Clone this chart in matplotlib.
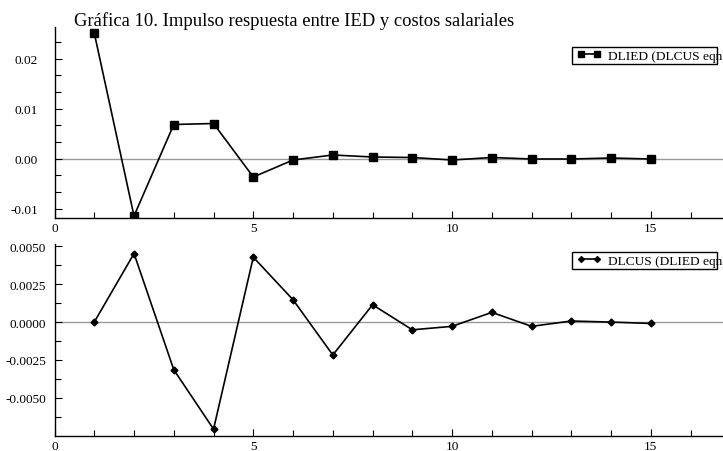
import matplotlib
matplotlib.use("Agg")
import matplotlib.pyplot as plt
from matplotlib.ticker import MultipleLocator, FuncFormatter
from matplotlib.patches import Rectangle

plt.rcParams['font.family'] = ['Liberation Serif', 'DejaVu Serif']
plt.rcParams['axes.unicode_minus'] = False

title = "Gráfica 10. Impulso respuesta entre IED y costos salariales"
periods = list(range(1, 16))
dlied = [0.0251, -0.0115, 0.0068, 0.0070, -0.0037, -0.0003, 0.0007, 0.0003,
         0.0002, -0.0003, 0.0002, -0.0001, -0.0001, 0.0001, -0.0001]
dlcus = [0.0000, 0.00452, -0.00314, -0.00706, 0.00428, 0.00147, -0.00217, 0.00114,
         -0.00051, -0.00028, 0.00064, -0.00028, 0.00007, 0.0000, -0.00009]
label_top = "DLIED (DLCUS eqn)"
label_bot = "DLCUS (DLIED eqn)"

W, H = 723, 452
fig = plt.figure(figsize=(W / 100, H / 100), dpi=100)

ppu = 39.76
x0 = 54.5
xmax = 17.5
wfrac = xmax * ppu / W

def setup(ax, ymaj, ymin, fmt, ypad):
    ax.set_xlim(0, xmax)
    for s in ['top', 'right']:
        ax.spines[s].set_visible(False)
    ax.spines['left'].set_linewidth(1.0)
    ax.spines['bottom'].set_linewidth(1.0)
    ax.xaxis.set_major_locator(MultipleLocator(5))
    ax.xaxis.set_minor_locator(MultipleLocator(1))
    ax.yaxis.set_major_locator(MultipleLocator(ymaj))
    ax.yaxis.set_minor_locator(MultipleLocator(ymin))
    ax.yaxis.set_major_formatter(FuncFormatter(lambda v, p: fmt % v))
    ax.tick_params(which='both', direction='in', labelsize=9.5, width=0.8)
    ax.tick_params(which='major', length=5)
    ax.tick_params(which='minor', length=4)
    ax.tick_params(axis='x', pad=3)
    ax.tick_params(axis='y', pad=ypad)
    ax.axhline(0, color='#999999', lw=1.0, zorder=1)

def box_legend(ax, top, bottom):
    ax.add_patch(Rectangle((572 / W, 1 - bottom / H), (717 - 572) / W, (bottom - top) / H,
                           transform=fig.transFigure, fill=True, facecolor='white',
                           edgecolor='black', lw=1.0, zorder=4, clip_on=False))
    leg = ax.legend(loc='center left', bbox_to_anchor=(577 / W, 1 - (top + bottom) / 2 / H),
                    bbox_transform=fig.transFigure, fontsize=9.65, frameon=False,
                    borderpad=0, handlelength=1.8, handletextpad=0.5, numpoints=2,
                    borderaxespad=0, markerscale=0.85)
    leg.set_zorder(6)
    return leg

# top panel
ax1 = fig.add_axes([x0 / W, 1 - 219 / H, wfrac, (219 - 28) / H])
setup(ax1, 0.01, 0.01 / 3, '%.2f', 12)
ax1.set_ylim(-0.0119, 0.0263)
ax1.plot(periods, dlied, color='black', lw=1.2, marker='s', ms=5.5, label=label_top, zorder=3)
box_legend(ax1, 48, 65)

# bottom panel
ax2 = fig.add_axes([x0 / W, 1 - 436.5 / H, wfrac, (436.5 - 245) / H])
setup(ax2, 0.0025, 0.00125, '%.4f', 6)
ax2.set_ylim(-0.00748, 0.00515)
ax2.plot(periods, dlcus, color='black', lw=1.2, marker='D', ms=3.5, label=label_bot, zorder=3)
box_legend(ax2, 253, 270)

fig.text(74 / W, 1 - 26 / H, title, fontsize=13.4, ha='left', va='baseline')

fig.savefig('out.png', dpi=100)
